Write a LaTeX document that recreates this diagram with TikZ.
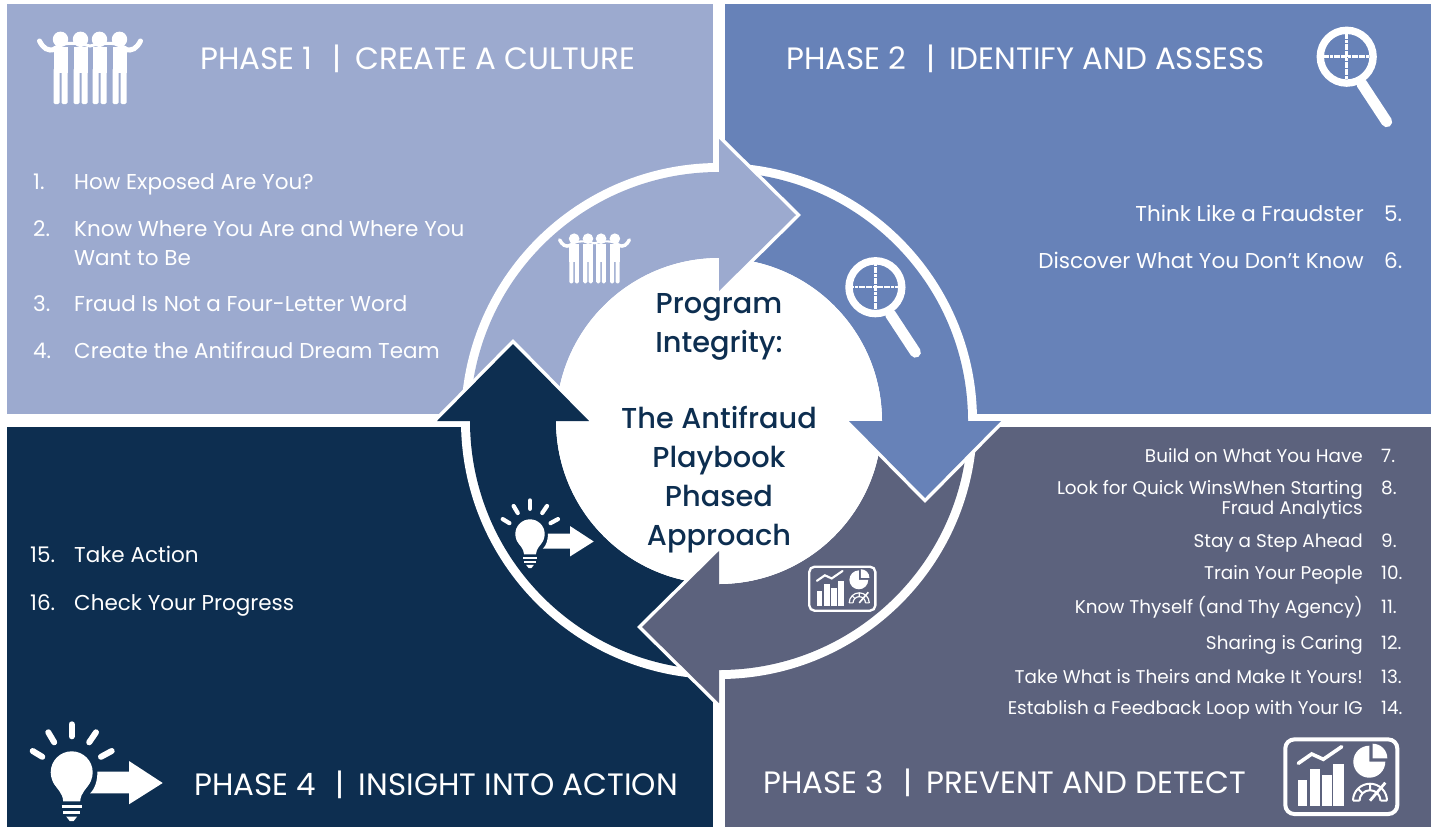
\documentclass[tikz,border=0pt]{standalone}
\usepackage{fontspec}
\setmainfont{Poppins}[BoldFont=* Medium]
\definecolor{phaseone}{RGB}{156,170,207}
\definecolor{phasetwo}{RGB}{103,130,184}
\definecolor{phasethree}{RGB}{92,98,125}
\definecolor{phasefour}{RGB}{13,46,80}
\tikzset{
  phasehead/.style={anchor=base west, inner sep=0pt, text=white, font=\fontsize{30.9}{30.9}\selectfont},
  listtext/.style={anchor=base west, inner sep=0pt, text=white, font=\fontsize{21.5}{21.5}\selectfont},
  listright/.style={anchor=base east, inner sep=0pt, text=white, font=\fontsize{21.5}{21.5}\selectfont},
  smallright/.style={anchor=base east, inner sep=0pt, text=white, font=\fontsize{18.4}{18.4}\selectfont},
  smallnum/.style={anchor=base west, inner sep=0pt, text=white, font=\fontsize{18.4}{18.4}\selectfont},
  hubtext/.style={anchor=base, inner sep=0pt, text=phasefour, font=\fontsize{28.8}{28.8}\selectfont\bfseries},
  people/.pic={
    \begin{scope}[scale=#1]
    \foreach \p in {-29.5,-9.5,9.5,29.5} {
      \fill[white] (\p,-28.7) circle (7.7);
      \fill[white] ({\p-7},-21) rectangle ({\p+7},5);
      \fill[white, rounded corners=1.5] ({\p-7},0) rectangle ({\p-1},36);
      \fill[white, rounded corners=1.5] ({\p+1},0) rectangle ({\p+7},36);
    }
    \draw[white, line width=#1*3pt] (-36,-20) .. controls (-25,-26) and (-15,-26) .. (0,-22) .. controls (15,-26) and (25,-26) .. (36,-20);
    \draw[white, line width=#1*5pt, line cap=round] (-35,-19) .. controls (-42,-16) and (-47,-20) .. (-50.5,-27);
    \draw[white, line width=#1*5pt, line cap=round] (35,-19) .. controls (42,-16) and (47,-20) .. (50.5,-27);
    \end{scope}
  },
  lens/.pic={
    \begin{scope}[scale=#1]
    \draw[white, line width=#1*7.4pt] (0,0) circle (26.4);
    \draw[white, line width=#1*2.5pt, dash pattern=on 3pt off 0.6pt] (-24,0) -- (24,0);
    \draw[white, line width=#1*2.5pt, dash pattern=on 3pt off 0.6pt] (0,-24) -- (0,24);
    \draw[white, line width=#1*11pt, line cap=round] (15,27) -- (40,65);
    \end{scope}
  },
  bulb/.pic={
    \begin{scope}[scale=#1]
    \fill[white] (0,0) circle (21);
    \fill[white] (-19,9) .. controls (-15,17) and (-9,20) .. (-8.5,29) -- (8.5,29) .. controls (9,20) and (15,17) .. (19,9) -- cycle;
    \draw[white, line width=#1*3pt] (-10,34.4) -- (10,34.4);
    \draw[white, line width=#1*3pt] (-8.5,39.7) -- (8.5,39.7);
    \fill[white] (-5.5,44.2) -- (5.5,44.2) -- (2,48.7) -- (-2,48.7) -- cycle;
    \foreach \ax/\ay/\bx/\by in {0/-48/0/-36, -23.4/-40/-17.5/-30, 24.3/-40/17.5/-30, -39/-21.3/-29.4/-15.5, 40/-21.3/29.3/-15.5}
      \draw[white, line width=#1*6pt, line cap=round] (\ax,\ay) -- (\bx,\by);
    \fill[white] (25.6,-0.6) -- (57.3,-0.6) -- (57.3,-11.3) -- (91,10.7) -- (57.3,32) -- (57.3,21) -- (18.3,21) .. controls (23,17) and (26,8) .. cycle;
    \end{scope}
  },
  charts/.pic={
    \begin{scope}[scale=#1]
    \draw[white, line width=#1*4pt, rounded corners=9*#1] (-56,-37.3) rectangle (56,37.3);
    \foreach \l/\r/\t in {-43/-34.6/3.3, -31.3/-21.3/-7.4, -19.6/-9.6/-1.7, -8/2.7/-12.4}
      \fill[white] (\l,\t) rectangle (\r,29.3);
    \draw[white, line width=#1*3.6pt, line cap=round] (-43,-13.4) -- (-29.6,-22.7) -- (-18,-17.4) -- (0.4,-30);
    \fill[white] (28,-15) -- (28,-31) arc[start angle=270, end angle=0, radius=16] -- cycle;
    \fill[white] (31.4,-18.4) -- (31.4,-33) arc[start angle=270, end angle=360, radius=14.6] -- cycle;
    \draw[white, line width=#1*2pt] (11.7,24) arc[start angle=180, end angle=360, radius=17];
    \draw[white, line width=#1*2pt] (18.2,24) arc[start angle=180, end angle=360, radius=10.5];
    \draw[white, line width=#1*2pt] (11.7,24) -- (18.2,24) (39.2,24) -- (45.7,24) (28.7,7) -- (28.7,13.5) (16.7,12) -- (21.3,16.6);
    \draw[white, line width=#1*2.8pt] (28.7,24) -- (44,6);
    \end{scope}
  }
}
\begin{document}
\begin{tikzpicture}[x=1pt, y=-1pt]
\useasboundingbox[fill=white] (0,0) rectangle (1435,828);

% Four panels
\fill[phaseone] (7,4) rectangle (713,414);
\fill[phasetwo] (725,4) rectangle (1431,414);
\fill[phasethree] (725,427) rectangle (1431,827);
\fill[phasefour] (7,427) rectangle (713,827);

% Ring of arrows: bodies first, then heads on top
\fill[white] (719,421) circle (258);
\begin{scope}[shift={(719,421)}]
\foreach \c/\a in {phaseone/180, phasetwo/270, phasethree/0, phasefour/90}
  \fill[\c] ({\a+1}:249) arc[start angle=\a+1, end angle=\a+91, radius=249]
    -- ({\a+91}:163) arc[start angle=\a+91, end angle=\a+1, radius=163] -- cycle;
\fill[white] (0,0) circle (163);
\foreach \c/\r in {phaseone/0, phasetwo/90, phasethree/180, phasefour/270} {
  \begin{scope}[rotate=-\r]
  \draw[white, line width=7pt, line join=miter] (0,-282) -- (77,-206) -- (0,-130);
  \fill[\c] (0,-282) -- (77,-206) -- (0,-130) -- cycle;
  \end{scope}
}
\end{scope}

% Icons
\pic at (90,68) {people=1};
\pic at (594.5,258.5) {people=0.69};
\pic at (1346.7,56.7) {lens=1};
\pic at (875.4,287.2) {lens=1};
\pic at (1341.3,776.7) {charts=1};
\pic at (842.3,588.7) {charts=0.59};
\pic at (71.7,772.3) {bulb=1};
\pic at (530,534) {bulb=0.7};

% Hub
\node[hubtext] (hubone) at (719,313) {Program};
\node[hubtext] (hubtwo) at (719,352) {Integrity:};
\node[hubtext] (hubthree) at (719,428) {The Antifraud};
\node[hubtext] (hubfour) at (719,467) {Playbook};
\node[hubtext] (hubfive) at (719,506) {Phased};
\node[hubtext] (hubsix) at (719,545) {Approach};

% Headings
\node[phasehead] (headone) at (200,69) {PHASE 1\hspace{20pt}|\hspace{14pt}CREATE A CULTURE};
\node[phasehead] (headtwo) at (786,69) {PHASE 2\hspace{20pt}|\hspace{14pt}IDENTIFY AND ASSESS};
\node[phasehead] (headthree) at (763,793) {PHASE 3\hspace{20pt}|\hspace{14pt}PREVENT AND DETECT};
\node[phasehead] (headfour) at (194,795) {PHASE 4\hspace{20pt}|\hspace{14pt}INSIGHT INTO ACTION};

% Phase 1 list
\node[listtext] (numone) at (33,189.5) {1.};
\node[listtext] (itemone) at (74,189.5) {How Exposed Are You?};
\node[listtext] (numtwo) at (33,236.5) {2.};
\node[listtext] (itemtwo) at (74,236.5) {Know Where You Are and Where You};
\node[listtext] (itemtwob) at (74,265.5) {Want to Be};
\node[listtext] (numthree) at (33,311.5) {3.};
\node[listtext] (itemthree) at (74,311.5) {Fraud Is Not a Four-Letter Word};
\node[listtext] (numfour) at (33,358.5) {4.};
\node[listtext] (itemfour) at (74,358.5) {Create the Antifraud Dream Team};

% Phase 2 list
\node[listright] (itemfive) at (1364,221.5) {Think Like a Fraudster};
\node[listtext] (numfive) at (1384,221.5) {5.};
\node[listright] (itemsix) at (1364,268.5) {Discover What You Don’t Know};
\node[listtext] (numsix) at (1384,268.5) {6.};

% Phase 3 list
\node[smallright] (itemseven) at (1363,462.5) {Build on What You Have};
\node[smallnum] (numseven) at (1381,462.5) {7.};
\node[smallright] (itemeight) at (1363,494.5) {Look for Quick WinsWhen Starting};
\node[smallright] (itemeightb) at (1363,514.5) {Fraud Analytics};
\node[smallnum] (numeight) at (1381,494.5) {8.};
\node[smallright] (itemnine) at (1363,547.5) {Stay a Step Ahead};
\node[smallnum] (numnine) at (1381,547.5) {9.};
\node[smallright] (itemten) at (1363,579.5) {Train Your People};
\node[smallnum] (numten) at (1381,579.5) {10.};
\node[smallright] (itemeleven) at (1363,613.5) {Know Thyself (and Thy Agency)};
\node[smallnum] (numeleven) at (1381,613.5) {11.};
\node[smallright] (itemtwelve) at (1363,649.5) {Sharing is Caring};
\node[smallnum] (numtwelve) at (1381,649.5) {12.};
\node[smallright] (itemthirteen) at (1363,683.5) {Take What is Theirs and Make It Yours!};
\node[smallnum] (numthirteen) at (1381,683.5) {13.};
\node[smallright] (itemfourteen) at (1363,714.5) {Establish a Feedback Loop with Your IG};
\node[smallnum] (numfourteen) at (1381,714.5) {14.};

% Phase 4 list
\node[listtext] (numfifteen) at (30,562.5) {15.};
\node[listtext] (itemfifteen) at (74,562.5) {Take Action};
\node[listtext] (numsixteen) at (30,610.5) {16.};
\node[listtext] (itemsixteen) at (74,610.5) {Check Your Progress};
\end{tikzpicture}
\end{document}
